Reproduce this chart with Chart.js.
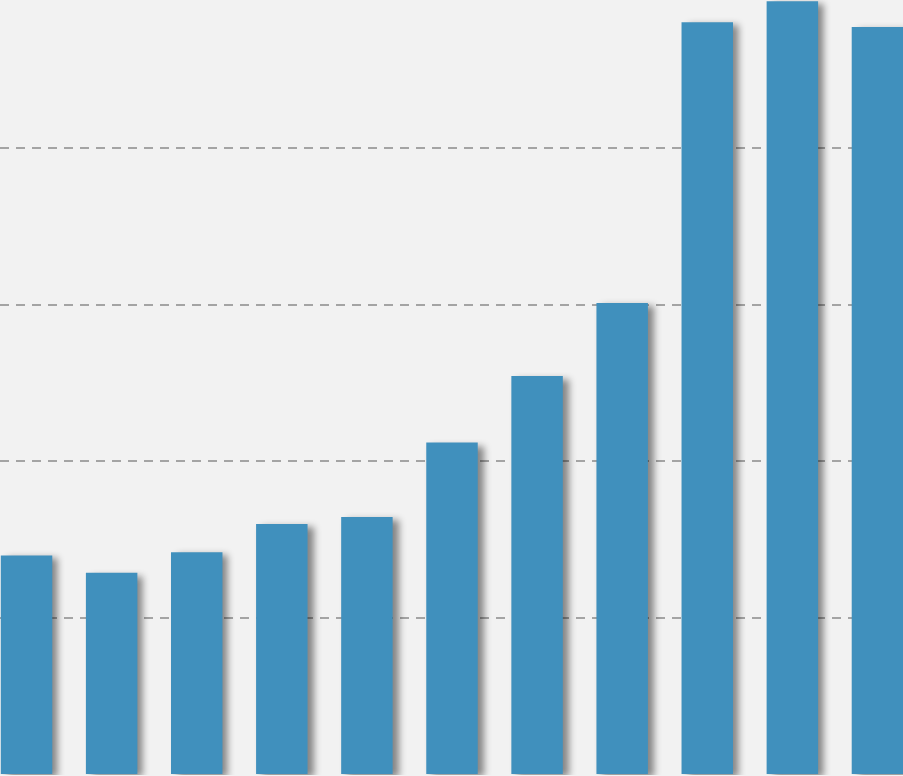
<!DOCTYPE html>
<html>
<head>
<meta charset="utf-8">
<script src="https://cdn.jsdelivr.net/npm/chart.js@4"></script>
<style>
    html, body { margin: 0; padding: 0; background: #f2f2f2; overflow: hidden; width: 903px; height: 776px; }
    #wrap { position: absolute; left: -16px; top: -9px; width: 936px; height: 784px; }
</style>
</head>
<body>
<div id="wrap"><canvas id="barChart"></canvas></div>
<script>
const labels = ['1', '2', '3', '4', '5', '6', '7', '8', '9', '10', '11'];
const values = [1.40, 1.29, 1.42, 1.60, 1.645, 2.12, 2.545, 3.01, 4.80, 4.935, 4.77];
const yTicks = [0, 1, 2, 3, 4, 5];

// soft drop shadow behind each bar
const barShadow = {
    id: 'barShadow',
    beforeDatasetsDraw(chart) {
        const c = chart.ctx;
        c.save();
        c.shadowColor = 'rgba(0, 0, 0, 0.45)';
        c.shadowBlur = 7;
        c.shadowOffsetX = 6;
        c.shadowOffsetY = 3;
    },
    afterDatasetsDraw(chart) {
        chart.ctx.restore();
    }
};

const ctx = document.getElementById('barChart').getContext('2d');
new Chart(ctx, {
    type: 'bar',
    data: {
        labels: labels,
        datasets: [{
            data: values,
            backgroundColor: '#4090bd',
            borderWidth: 0,
            categoryPercentage: 1,
            barPercentage: 0.605
        }]
    },
    options: {
        responsive: true,
        maintainAspectRatio: false,
        animation: false,
        layout: { padding: 0 },
        plugins: {
            legend: { display: false },
            tooltip: { enabled: false }
        },
        scales: {
            x: {
                display: false
            },
            y: {
                min: yTicks[0],
                max: yTicks[yTicks.length - 1],
                afterBuildTicks: (axis) => {
                    axis.ticks = yTicks.map(v => ({ value: v }));
                },
                afterFit: (axis) => { axis.width = 0; },
                grid: {
                    color: (c) => (c.tick && c.tick.value > 0 && c.tick.value < 5) ? '#a4a4a4' : 'rgba(0,0,0,0)',
                    lineWidth: 2,
                    drawTicks: false
                },
                border: { display: false, dash: [9, 7] },
                ticks: { display: false }
            }
        }
    },
    plugins: [barShadow]
});
</script>
</body>
</html>
